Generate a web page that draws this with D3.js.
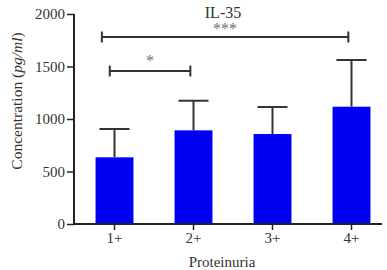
<!DOCTYPE html>
<html><head><meta charset="utf-8">
<script src="https://cdn.jsdelivr.net/npm/d3@7"></script>
<style>body{margin:0;background:#fff}svg{display:block}</style>
</head><body>
<svg id="c" width="387" height="270"></svg>
<script>
const categories = ["1+","2+","3+","4+"];
const means = [635, 892, 857, 1117];
const upperErr = [905, 1174, 1114, 1562];
const yTicks = [0, 500, 1000, 1500, 2000];
// significance brackets: from/to in category-index units, level in data units
const bracketFrom = [-0.16, -0.06];
const bracketTo = [2.96, 0.96];
const bracketLevel = [1780, 1457];
const bracketLabel = ["***", "*"];

const svg = d3.select("#c");
const font = "Liberation Serif, Times New Roman, serif";
const x = d3.scaleBand().domain(categories).range([75, 391]).paddingInner(0.52).paddingOuter(0.26);
const xi = d3.scaleLinear().domain([0, 1]).range([x(categories[0]) + x.bandwidth()/2, x(categories[1]) + x.bandwidth()/2]);
const y = d3.scaleLinear().domain([0, 2000]).range([224, 14]);

// bars
svg.selectAll("rect.bar").data(categories).join("rect")
  .attr("x", d => x(d)).attr("width", x.bandwidth())
  .attr("y", (d,i) => y(means[i])).attr("height", (d,i) => y(0) - y(means[i]))
  .attr("fill", "#0000f2");

// error bars
const eb = svg.append("g").attr("stroke", "#333").attr("stroke-width", 2);
categories.forEach((c,i) => {
  const cx = x(c) + x.bandwidth()/2;
  eb.append("line").attr("x1", cx).attr("x2", cx).attr("y1", y(means[i])).attr("y2", y(upperErr[i]));
  eb.append("line").attr("x1", cx - 15).attr("x2", cx + 15).attr("y1", y(upperErr[i])).attr("y2", y(upperErr[i]));
});

// axes
const yAxis = svg.append("g").attr("transform", "translate(74,0)")
  .call(d3.axisLeft(y).tickValues(yTicks).tickSize(7).tickPadding(2).tickFormat(d3.format("d")));
yAxis.select(".domain").attr("d", `M0,${y(2000)}V${y(0)}`);
const xAxis = svg.append("g").attr("transform", `translate(0,${y(0)})`)
  .call(d3.axisBottom(x).tickSize(6).tickPadding(2));
xAxis.select(".domain").attr("d", `M74,0H382`);
[yAxis, xAxis].forEach(a => {
  a.attr("font-family", font);
  a.selectAll("path,line").attr("stroke", "#222").attr("stroke-width", 2);
  a.selectAll("text").attr("font-family", font).attr("font-size", 15).attr("fill", "#333");
});
xAxis.selectAll(".tick line").attr("stroke-width", 1.5);
yAxis.selectAll(".tick line").attr("stroke-width", 1.5);

// brackets
const br = svg.append("g");
bracketLabel.forEach((lab, i) => {
  const x1 = xi(bracketFrom[i]), x2 = xi(bracketTo[i]), yy = y(bracketLevel[i]);
  br.append("path").attr("d", `M${x1},${yy-5.5}V${yy+5.5}M${x1},${yy}H${x2}M${x2},${yy-5.5}V${yy+5.5}`)
    .attr("stroke", "#333").attr("stroke-width", 2).attr("fill", "none");
  br.append("text").attr("x", (x1 + x2)/2).attr("y", yy - (i === 0 ? 3 : 5)).attr("text-anchor", "middle")
    .attr("font-family", font).attr("font-size", 16).attr("fill", "#707070").text(lab);
});

// title
svg.append("text").attr("x", 223).attr("y", 18).attr("text-anchor", "middle")
  .attr("font-family", font).attr("font-size", 16).attr("fill", "#333").text("IL-35");
// x label
svg.append("text").attr("x", 222).attr("y", 267).attr("text-anchor", "middle")
  .attr("font-family", font).attr("font-size", 15).attr("fill", "#333").text("Proteinuria");
// y label
const yl = svg.append("text").attr("transform", "translate(22,101) rotate(-90)").attr("text-anchor", "middle")
  .attr("font-family", font).attr("font-size", 15.5).attr("fill", "#333");
yl.append("tspan").text("Concentration (");
yl.append("tspan").attr("font-style", "italic").text("pg/ml");
yl.append("tspan").text(")");
</script>
</body></html>
